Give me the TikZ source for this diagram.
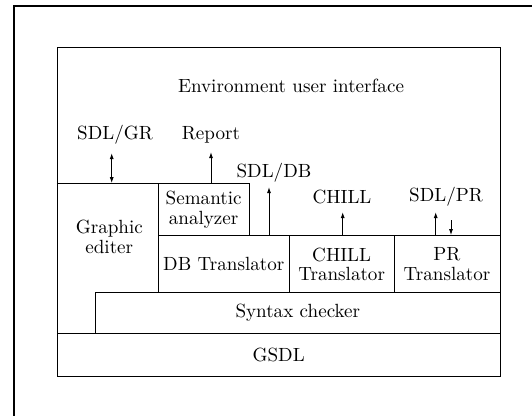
\documentclass[tikz,border=0pt]{standalone}
\usetikzlibrary{arrows.meta}
\begin{document}
\begin{tikzpicture}[x=0.55pt,y=-0.55pt,
  box/.style={draw, line width=0.55pt, inner sep=0pt, align=center,
    font=\fontsize{10.5}{10.8}\selectfont},
  lbl/.style={inner sep=0pt, align=center, font=\fontsize{10.5}{10.8}\selectfont},
  arr/.style={line width=0.55pt, -{Latex[length=3.3pt,width=2.2pt]}},
  dbl/.style={line width=0.55pt, {Latex[length=3.3pt,width=2.2pt]}-{Latex[length=3.3pt,width=2.2pt]}}]
\useasboundingbox (0,0) rectangle (532,415);
% frame
\draw[line width=1.4pt] (14,420) -- (14,6) -- (540,6);
% boxes
\node[box, minimum width=243.5pt, minimum height=180.8pt] (outer) at (278.65,211.65) {};
\node[box, minimum width=49.9pt, minimum height=28.6pt] (sem) at (203.65,209.7) {Semantic\\analyzer};
\node[box, minimum width=72.05pt, minimum height=31.35pt] (db) at (223.8,264.2) {DB Translator};
\node[box, minimum width=57.6pt, minimum height=31.35pt] (chill) at (341.65,264.2) {CHILL\\Translator};
\node[box, minimum width=58.3pt, minimum height=31.35pt] (pr) at (447,264.2) {PR\\Translator};
\node[box, minimum width=222.4pt, minimum height=22.55pt] (syn) at (297.85,313.2) {Syntax checker};
\node[box, minimum width=243.5pt, minimum height=23.3pt] (gsdl) at (278.65,354.85) {GSDL};
% graphic editer
\draw[line width=0.55pt] (outer.west |- sem.north) -- (sem.north west);
\node[lbl] (ge) at (109.3,237) {Graphic\\editer};
% labels
\node[lbl] (env) at (291,86) {Environment user interface};
\node[lbl] (sdlgr) at (115,135) {SDL/GR};
\node[lbl] (report) at (211,135) {Report};
\node[lbl] (sdldb) at (274,173) {SDL/DB};
\node[lbl] (chilll) at (342,197) {CHILL};
\node[lbl] (sdlpr) at (446,197) {SDL/PR};
% arrow ends
\coordinate (gr-t) at (111.7,153);
\coordinate (rep-t) at (211,152);
\coordinate (db-t) at (269,187);
\coordinate (ch-t) at (342.7,212);
\coordinate (pru-t) at (435.7,212);
\coordinate (prd-s) at (451,220);
% arrows
\draw[dbl] (gr-t) -- (gr-t |- sem.north);
\draw[arr] (rep-t |- sem.north) -- (rep-t);
\draw[arr] (db-t |- db.north) -- (db-t);
\draw[arr] (ch-t |- chill.north) -- (ch-t);
\draw[arr] (pru-t |- pr.north) -- (pru-t);
\draw[arr] (prd-s) -- (prd-s |- pr.north);
\end{tikzpicture}
\end{document}
